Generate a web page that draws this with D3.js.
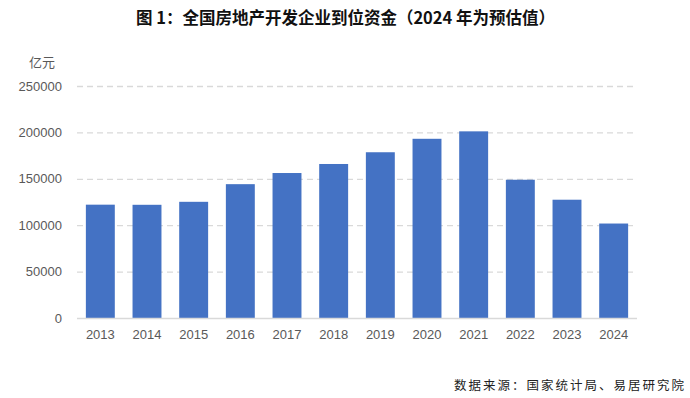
<!DOCTYPE html>
<html><head><meta charset="utf-8">
<script src="https://cdn.jsdelivr.net/npm/d3@7"></script>
<style>
html,body{margin:0;padding:0;background:#fff;}
svg{display:block;}
</style></head>
<body>
<svg id="chart" width="690" height="398"></svg>
<script>
const years = ["2013","2014","2015","2016","2017","2018","2019","2020","2021","2022","2023","2024"];
const funds = [122122,121991,125203,144214,156229,165963,178609,193115,201132,148979,127459,101800];
const yTicks = [0,50000,100000,150000,200000,250000];
const titleText = "图 1：全国房地产开发企业到位资金（2024 年为预估值）";
const unitText = "亿元";
const sourceText = "数据来源：国家统计局、易居研究院";

const svg = d3.select("#chart");
const m = {left:77, right:637, top:86, bottom:318};
const x = d3.scaleBand().domain(years).range([m.left, m.right]).paddingInner(0.38).paddingOuter(0.19);
const y = d3.scaleLinear().domain([0,250000]).range([m.bottom, m.top]);

const cjk = "'Noto Sans CJK SC', 'Noto Sans', sans-serif";
const latin = "'Liberation Sans', Arial, sans-serif";

// title
svg.append("text").attr("x",345.5).attr("y",24).attr("text-anchor","middle")
  .style("font-family",cjk).style("font-weight","bold").style("font-size","16.5px").attr("fill","#111")
  .text(titleText);

// grid
const yAxis = d3.axisLeft(y).tickValues(yTicks).tickSize(-(m.right-m.left)).tickFormat(d3.format("d")).tickPadding(15);
const gy = svg.append("g").attr("transform",`translate(${m.left},0)`).call(yAxis);
gy.select(".domain").remove();
gy.selectAll(".tick line").attr("stroke","#d9d9d9").attr("stroke-width",1.3).attr("stroke-dasharray","6,4")
  .filter(d=>d===0).remove();
gy.selectAll(".tick text").attr("fill","#595959").style("font-family",latin).style("font-size","13px");

// unit
svg.append("text").attr("x",42).attr("y",67).attr("text-anchor","middle")
  .style("font-family",cjk).style("font-size","13px").attr("fill","#595959").text(unitText);

// bars
svg.append("g").selectAll("rect").data(years).join("rect")
  .attr("x",d=>x(d)).attr("width",x.bandwidth())
  .attr("y",(d,i)=>y(funds[i])).attr("height",(d,i)=>y(0)-y(funds[i]))
  .attr("fill","#4472c4");

// x axis
const gx = svg.append("g").attr("transform",`translate(0,${m.bottom})`)
  .call(d3.axisBottom(x).tickSize(0).tickPadding(12));
gx.select(".domain").attr("stroke","#d9d9d9").attr("stroke-width",1.3)
  .attr("d",`M${m.left},0.5H${m.right}`);
gx.selectAll(".tick text").attr("fill","#595959").style("font-family",latin).style("font-size","13px");

// source
svg.append("text").attr("x",686).attr("y",390).attr("text-anchor","end")
  .style("font-family",cjk).style("font-size","12.5px").style("letter-spacing","2px").attr("fill","#222")
  .text(sourceText);
</script>
</body></html>
